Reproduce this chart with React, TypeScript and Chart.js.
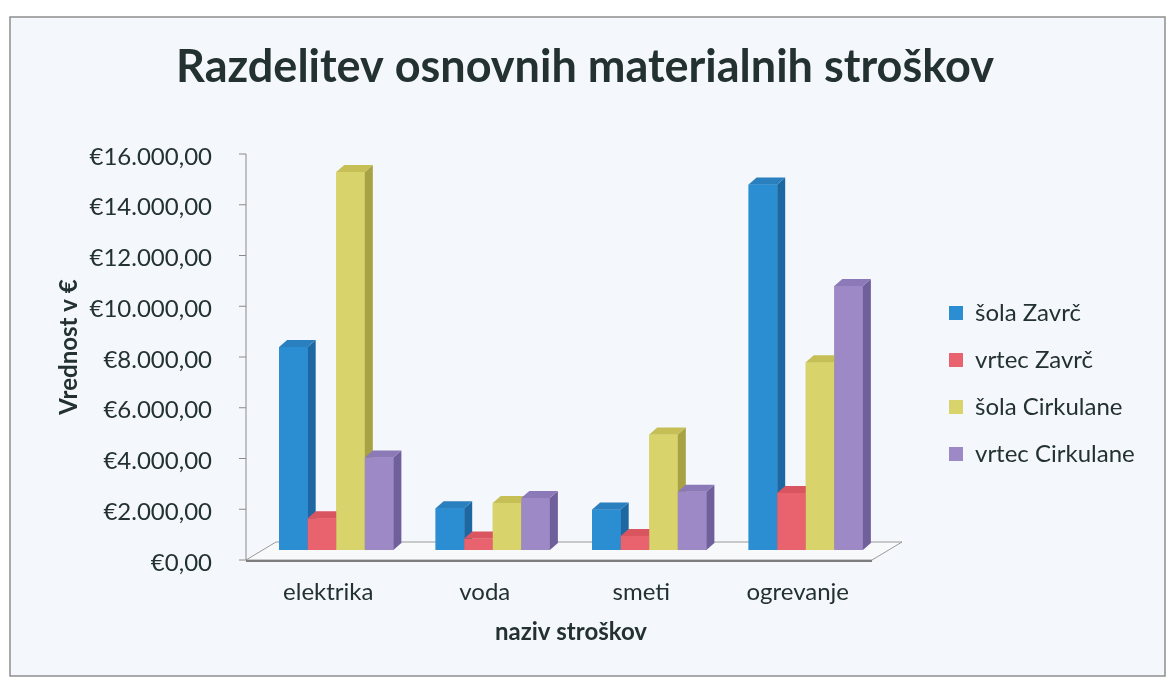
import React, { useEffect, useRef } from 'react';
import { Chart, registerables } from 'chart.js';

Chart.register(...registerables);

// ---- data ----
const categories = ['elektrika', 'voda', 'smeti', 'ogrevanje'];
const seriesNames = ['šola Zavrč', 'vrtec Zavrč', 'šola Cirkulane', 'vrtec Cirkulane'];
const solaZavrc = [8000, 1650, 1600, 14400];
const vrtecZavrc = [1250, 450, 550, 2250];
const solaCirkulane = [14900, 1850, 4550, 7400];
const vrtecCirkulane = [3650, 2050, 2300, 10400];
const yTickValues = [0, 2000, 4000, 6000, 8000, 10000, 12000, 14000, 16000];

const chartTitle = 'Razdelitev osnovnih materialnih stroškov';
const yTitle = 'Vrednost v €';
const xTitle = 'naziv stroškov';

// ---- styles ----
const frontColors = ['#2b8dd2', '#e8636d', '#d8d36a', '#9c89c5'];
const sideColors = ['#1d68a3', '#b6454f', '#a7a243', '#6f5f9b'];
const topColors = ['#2a7fbe', '#d9555f', '#c5bf55', '#8c79b7'];
const FONT = 'Lato, "Open Sans", sans-serif';
const TEXT = '#233131';
const FS = 24;
const DX = 8;
const DY = 7;

function fmtEuro(v: number): string {
  const s = String(Math.round(v)).replace(/\B(?=(\d{3})+(?!\d))/g, '.');
  return '€' + s + ',00';
}

const backgroundPlugin = {
  id: 'bgFrame',
  beforeDraw(chart: any) {
    const ctx = chart.ctx;
    ctx.save();
    ctx.fillStyle = '#ffffff';
    ctx.fillRect(0, 0, chart.width, chart.height);
    ctx.fillStyle = '#f4f7fb';
    ctx.fillRect(10, 17, 1155, 659);
    ctx.strokeStyle = '#8e8e8e';
    ctx.lineWidth = 1.5;
    ctx.strokeRect(10, 17, 1155, 659);
    ctx.restore();
  },
};

const floorPlugin = {
  id: 'floor3d',
  beforeDatasetsDraw(chart: any) {
    const ctx = chart.ctx;
    const ya = chart.scales.y;
    const ca = chart.chartArea;
    const y0 = ya.getPixelForValue(0);
    const fx = ca.left - 12;
    const fy = y0 + 10;
    const rx = ca.right - 12;
    const bx = 30;
    const by = 18;
    ctx.save();
    ctx.beginPath();
    ctx.moveTo(fx, fy);
    ctx.lineTo(rx, fy);
    ctx.lineTo(rx + bx, fy - by);
    ctx.lineTo(fx + bx, fy - by);
    ctx.closePath();
    ctx.fillStyle = '#f8f9fa';
    ctx.fill();
    ctx.strokeStyle = '#9a9a9a';
    ctx.lineWidth = 1;
    ctx.stroke();
    ctx.beginPath();
    ctx.moveTo(fx, fy + 1);
    ctx.lineTo(rx, fy + 1);
    ctx.strokeStyle = '#7d7d7d';
    ctx.lineWidth = 2;
    ctx.stroke();
    ctx.strokeStyle = '#8a8a8a';
    ctx.lineWidth = 1;
    ctx.beginPath();
    ctx.moveTo(fx, ya.getPixelForValue(ya.max) + 10);
    ctx.lineTo(fx, fy);
    yTickValues.forEach((v) => {
      const py = ya.getPixelForValue(v) + 10;
      ctx.moveTo(fx - 7, py);
      ctx.lineTo(fx, py);
    });
    ctx.stroke();
    ctx.restore();
  },
};

const bars3dPlugin = {
  id: 'bars3d',
  afterDatasetsDraw(chart: any) {
    const ctx = chart.ctx;
    for (let i = 0; i < categories.length; i++) {
      chart.data.datasets.forEach((_ds: any, d: number) => {
        const meta = chart.getDatasetMeta(d);
        const el = meta.data[i];
        if (!el) return;
        el.draw(ctx);
        const { x, y, base, width } = el.getProps(['x', 'y', 'base', 'width'], true);
        const l = x - width / 2;
        const r = x + width / 2;
        ctx.save();
        ctx.fillStyle = sideColors[d];
        ctx.beginPath();
        ctx.moveTo(r, y);
        ctx.lineTo(r + DX, y - DY);
        ctx.lineTo(r + DX, base - DY);
        ctx.lineTo(r, base);
        ctx.closePath();
        ctx.fill();
        ctx.fillStyle = topColors[d];
        ctx.beginPath();
        ctx.moveTo(l, y);
        ctx.lineTo(l + DX, y - DY);
        ctx.lineTo(r + DX, y - DY);
        ctx.lineTo(r, y);
        ctx.closePath();
        ctx.fill();
        ctx.restore();
      });
    }
  },
};

export default function App() {
  const canvasRef = useRef<HTMLCanvasElement | null>(null);

  useEffect(() => {
    const canvas = canvasRef.current;
    if (!canvas) return;

    const mctx = document.createElement('canvas').getContext('2d') as CanvasRenderingContext2D;
    mctx.font = `${FS}px ${FONT}`;
    const textW = Math.max(...seriesNames.map((s) => mctx.measureText(s).width));
    const legendPad = 23;
    const legendW = legendPad + 14 + FS / 2 + textW + 10;
    const legendLeft = 926;
    const outerW = Math.max(0, 1170 - legendLeft - legendW);

    const seriesValues = [solaZavrc, vrtecZavrc, solaCirkulane, vrtecCirkulane];

    const chart = new Chart(canvas, {
      type: 'bar',
      data: {
        labels: categories,
        datasets: seriesNames.map((name, k) => ({
          label: name,
          data: seriesValues[k],
          backgroundColor: frontColors[k],
          borderWidth: 0,
          categoryPercentage: 0.73,
          barPercentage: 1.0,
        })),
      },
      options: {
        responsive: false,
        animation: false,
        devicePixelRatio: 1,
        layout: { padding: 0 },
        plugins: {
          title: {
            display: true,
            text: chartTitle,
            color: TEXT,
            font: { family: FONT, size: 45, weight: 'bold', lineHeight: 1.2 },
            padding: { top: 40, bottom: 50 },
          },
          legend: {
            display: true,
            position: 'right',
            fullSize: false,
            align: 'center',
            maxWidth: 320,
            title: { display: true, text: '', font: { size: 10, lineHeight: 1 }, padding: { top: 63, bottom: 0 } },
            labels: {
              boxWidth: 14,
              boxHeight: 14,
              padding: legendPad,
              color: TEXT,
              font: { family: FONT, size: FS },
            },
          },
          tooltip: { enabled: false },
        },
        scales: {
          x: {
            type: 'category',
            offset: true,
            grid: { display: false, drawTicks: false },
            border: { display: false },
            ticks: {
              color: TEXT,
              font: { family: FONT, size: FS },
              padding: 28,
              labelOffset: -8,
              maxRotation: 0,
            },
            title: {
              display: true,
              text: xTitle,
              color: TEXT,
              font: { family: FONT, size: FS, weight: 'bold' },
              padding: { top: 0, bottom: 35 },
            },
            afterFit: (s: any) => {
              s.height = 132;
            },
          },
          y: {
            type: 'linear',
            position: 'left',
            min: 0,
            max: 16000,
            grid: { display: false, drawTicks: false },
            border: { display: false },
            ticks: {
              stepSize: 2000,
              color: TEXT,
              font: { family: FONT, size: FS },
              padding: 46,
              labelOffset: 13,
              callback: (v: any) => fmtEuro(Number(v)),
            },
            title: {
              display: true,
              text: yTitle,
              color: TEXT,
              font: { family: FONT, size: FS, weight: 'bold' },
              padding: { top: 55, bottom: 0 },
            },
            afterFit: (s: any) => {
              s.width = 258;
            },
          },
          depth: {
            type: 'linear',
            position: 'right',
            display: true,
            weight: 0,
            grid: { display: false, drawTicks: false },
            border: { display: false },
            ticks: { display: false },
            afterFit: (s: any) => {
              s.width = 42;
            },
          },
          outer: {
            type: 'linear',
            position: 'right',
            display: true,
            weight: 3000,
            grid: { display: false, drawTicks: false },
            border: { display: false },
            ticks: { display: false },
            afterFit: (s: any) => {
              s.width = outerW;
            },
          },
        },
      },
      plugins: [backgroundPlugin, floorPlugin, bars3dPlugin],
    } as any);

    return () => {
      chart.destroy();
    };
  }, []);

  return (
    <div style={{ position: 'absolute', left: 0, top: 0, width: 1170, height: 682 }}>
      <canvas ref={canvasRef} width={1170} height={682} style={{ display: 'block', width: 1170, height: 682 }} />
    </div>
  );
}
